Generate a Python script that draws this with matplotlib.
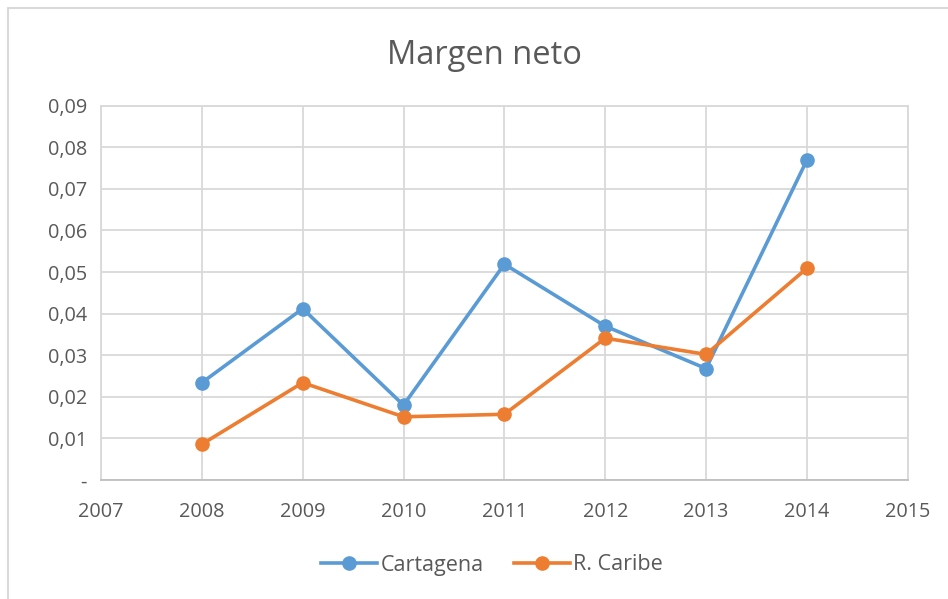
import matplotlib.pyplot as plt
from matplotlib.patches import Rectangle
from matplotlib.ticker import FuncFormatter

plt.rcParams['font.family'] = ['Open Sans', 'DejaVu Sans']

years = [2008, 2009, 2010, 2011, 2012, 2013, 2014]
cartagena = [0.0234, 0.0412, 0.0180, 0.0519, 0.0370, 0.0268, 0.0769]
r_caribe = [0.0086, 0.0234, 0.0152, 0.0158, 0.0341, 0.0302, 0.0509]
x_ticks = list(range(2007, 2016))
y_ticks = [0, 0.01, 0.02, 0.03, 0.04, 0.05, 0.06, 0.07, 0.08, 0.09]

W, H = 948, 599
fig = plt.figure(figsize=(W / 100, H / 100), dpi=100)

# marco exterior del gráfico
fig.patches.append(Rectangle((8 / W, -0.05), 1.1, 1 - 7.5 / H + 0.05,
                             transform=fig.transFigure, fill=False,
                             edgecolor='#d9d9d9', linewidth=1.5))

ax = fig.add_axes([101 / W, 1 - 480 / H, (907.7 - 101) / W, (480 - 105.7) / H])

ax.plot(years, cartagena, color='#5B9BD5', lw=2.6, marker='o', ms=9.5,
        label='Cartagena', zorder=3)
ax.plot(years, r_caribe, color='#ED7D31', lw=2.6, marker='o', ms=9.5,
        label='R. Caribe', zorder=3)

ax.set_xlim(2007, 2015)
ax.set_ylim(0, 0.09)
ax.set_xticks(x_ticks)
ax.set_yticks(y_ticks)
ax.yaxis.set_major_formatter(FuncFormatter(
    lambda v, p: '-' if abs(v) < 1e-9 else f'{v:.2f}'.replace('.', ',')))

ax.grid(True, color='#d9d9d9', lw=1.3)
ax.set_axisbelow(True)
for s in ax.spines.values():
    s.set_color('#d9d9d9')
    s.set_linewidth(1.3)
ax.spines['bottom'].set_color('#bfbfbf')
ax.tick_params(length=0, labelsize=14.3, labelcolor='#595959')
ax.tick_params(axis='x', pad=16)
ax.tick_params(axis='y', pad=10)

fig.text(0.5105, 1 - 55 / H, 'Margen neto', ha='center', va='center',
         fontsize=23.5, color='#595959')

fig.legend(loc='center', bbox_to_anchor=(0.519, 1 - 565 / H), ncol=2,
           frameon=False, fontsize=15.5, labelcolor='#595959',
           handlelength=2.6, columnspacing=1.4, handletextpad=0.15)

fig.savefig('out.png', dpi=100)
